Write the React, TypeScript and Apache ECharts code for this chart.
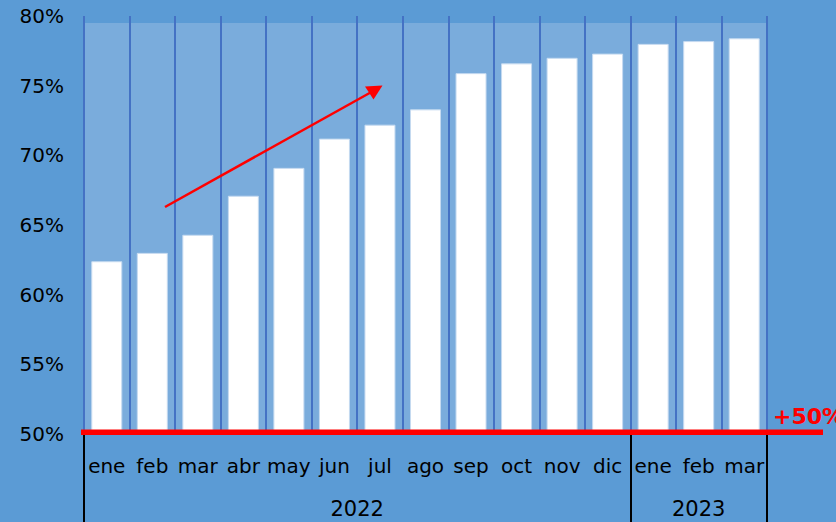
import React, { useEffect, useRef } from "react";
import * as echarts from "echarts";

const months = ["ene", "feb", "mar", "abr", "may", "jun", "jul", "ago", "sep", "oct", "nov", "dic", "ene", "feb", "mar"];
const values = [62.4, 63.0, 64.3, 67.1, 69.1, 71.2, 72.2, 73.3, 75.9, 76.6, 77.0, 77.3, 78.0, 78.2, 78.4];
const years = ["2022", "2023"];
const yearSpans = [12, 3];
const yMin = 50;
const yMax = 80;
const yStep = 5;
const bandTop = 79.5;
const annotation = "+50%";

export default function App() {
  const ref = useRef<HTMLDivElement>(null);
  useEffect(() => {
    if (!ref.current) return;
    const chart = echarts.init(ref.current, null, { renderer: "svg" });

    // year group boundaries and centers
    const bounds: number[] = [0];
    yearSpans.forEach((s) => bounds.push(bounds[bounds.length - 1] + s));
    const centers = yearSpans.map((s, i) => bounds[i] + s / 2);

    chart.setOption({
      animation: false,
      backgroundColor: "#5b9bd5",
      grid: { left: 84, right: 69, top: 16, bottom: 88 },
      xAxis: [
        {
          type: "category",
          data: months,
          z: 3,
          axisLine: { show: false },
          axisTick: { show: false },
          axisLabel: {
            color: "#000",
            fontFamily: "DejaVu Sans",
            fontSize: 20,
            margin: 22,
            interval: 0,
          },
          splitLine: { show: true, lineStyle: { color: "#4472c4", width: 2 } },
        },
        {
          type: "value",
          position: "bottom",
          min: 0,
          max: bounds[bounds.length - 1],
          z: 3,
          axisLine: { show: false },
          splitLine: { show: false },
          axisTick: {
            show: true,
            customValues: bounds,
            length: 90,
            lineStyle: { color: "#000", width: 2 },
          },
          axisLabel: {
            show: true,
            customValues: centers,
            formatter: (v: number) => {
              const i = centers.findIndex((c) => Math.abs(c - v) < 1e-6);
              return i >= 0 ? years[i] : "";
            },
            color: "#000",
            fontFamily: "DejaVu Sans",
            fontSize: 21,
            margin: 64,
          },
        },
      ],
      yAxis: {
        type: "value",
        min: yMin,
        max: yMax,
        interval: yStep,
        axisLine: { show: false },
        axisTick: { show: false },
        splitLine: { show: false },
        axisLabel: {
          formatter: "{value}%",
          color: "#000",
          fontFamily: "DejaVu Sans",
          fontSize: 20,
          margin: 20,
        },
      },
      series: [
        {
          type: "bar",
          data: values,
          barWidth: 31,
          z: 2,
          itemStyle: { color: "#ffffff", borderColor: "#c5daf0", borderWidth: 1 },
          markArea: {
            silent: true,
            z: 0,
            itemStyle: { color: "#7aacdc" },
            data: [[{ yAxis: yMin }, { yAxis: bandTop }]],
          },
        },
      ],
    });

    const y50 = chart.convertToPixel({ yAxisIndex: 0 }, yMin) as number;
    chart.setOption({
      graphic: [
        {
          type: "rect",
          z: 10,
          shape: { x: 81, y: y50 - 4.5, width: 742, height: 5.5 },
          style: { fill: "#ff0000" },
        },
        {
          type: "text",
          z: 10,
          x: 773,
          y: 416,
          style: {
            text: annotation,
            fill: "#ff0000",
            font: "bold 22px 'DejaVu Sans'",
            verticalAlign: "middle",
          },
        },
        {
          type: "line",
          z: 10,
          shape: { x1: 165, y1: 207, x2: 375, y2: 90 },
          style: { stroke: "#ff0000", lineWidth: 2.5 },
        },
        {
          type: "polygon",
          z: 10,
          shape: { points: [[382.5, 85.5], [365, 86.5], [373.5, 99.5]] },
          style: { fill: "#ff0000" },
        },
      ],
    });

    return () => chart.dispose();
  }, []);
  return (
    <div
      ref={ref}
      style={{ position: "absolute", left: 0, top: 0, width: 836, height: 522 }}
    />
  );
}
